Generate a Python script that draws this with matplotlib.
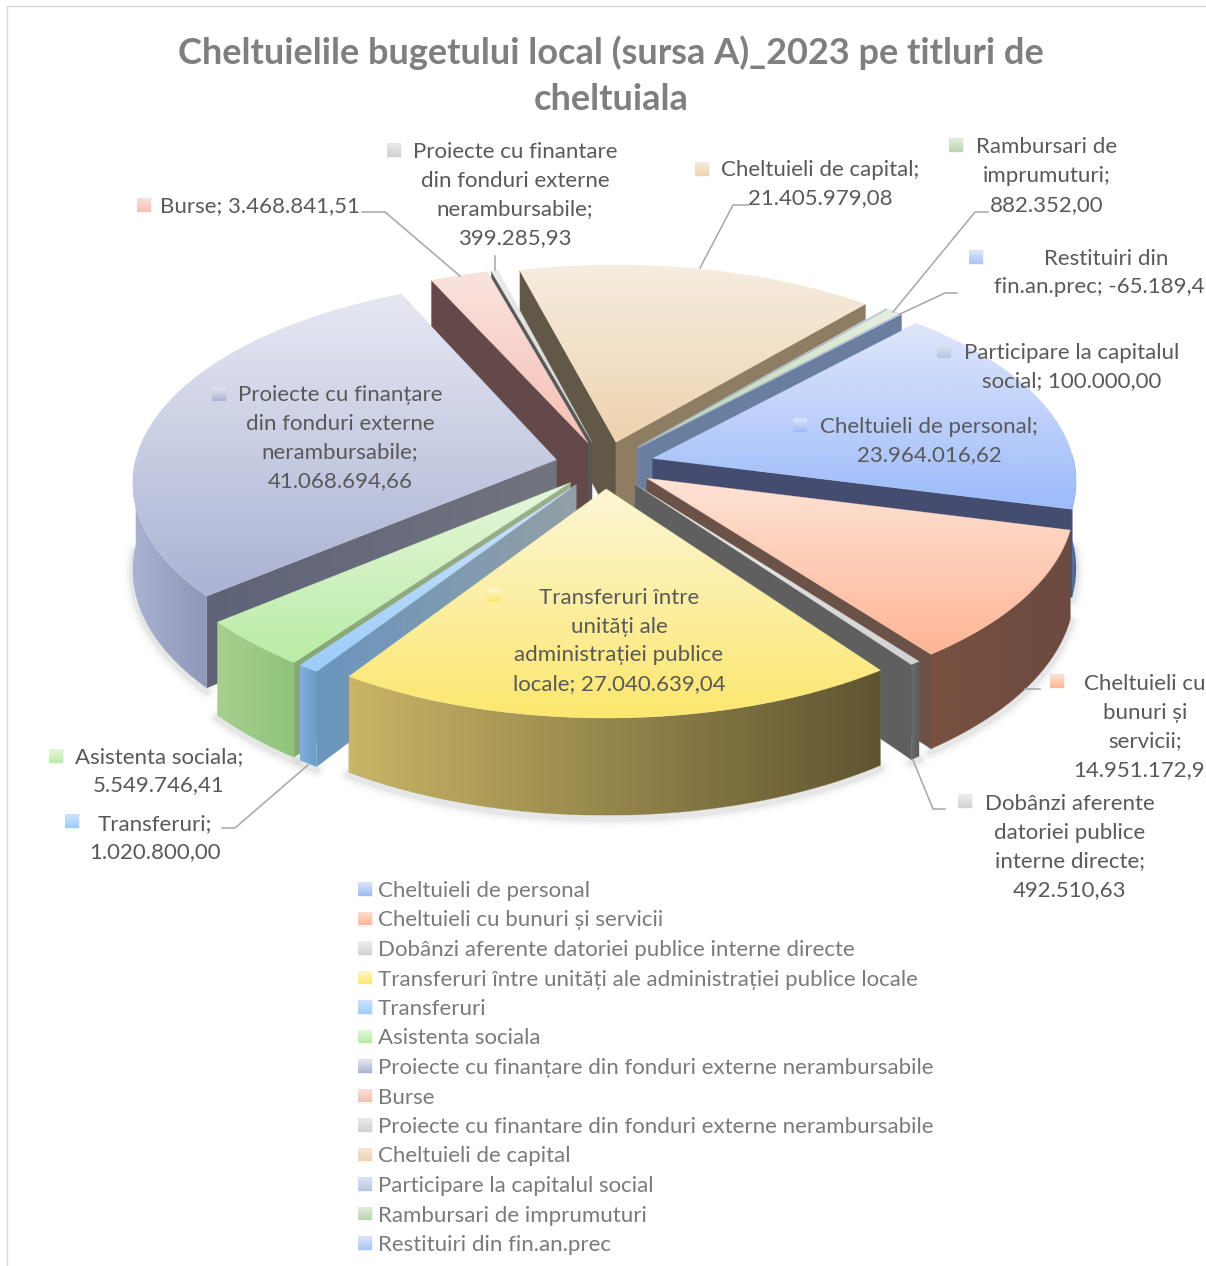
import numpy as np
import matplotlib
matplotlib.use('Agg')
import matplotlib.pyplot as plt
from matplotlib.patches import Polygon

plt.rcParams['font.family'] = ['Lato', 'DejaVu Sans']

names = ['Cheltuieli de personal', 'Cheltuieli cu bunuri și servicii',
         'Dobânzi aferente datoriei publice interne directe',
         'Transferuri între unități ale administrației publice locale',
         'Transferuri', 'Asistenta sociala',
         'Proiecte cu finanțare din fonduri externe nerambursabile', 'Burse',
         'Proiecte cu finantare din fonduri externe nerambursabile',
         'Cheltuieli de capital', 'Participare la capitalul social',
         'Rambursari de imprumuturi', 'Restituiri din fin.an.prec']
values = [23964016.62, 14951172.92, 492510.63, 27040639.04, 1020800.00,
          5549746.41, 41068694.66, 3468841.51, 399285.93, 21405979.08,
          100000.00, 882352.00, -65189.41]
value_text = ['23.964.016,62', '14.951.172,92', '492.510,63', '27.040.639,04',
              '1.020.800,00', '5.549.746,41', '41.068.694,66', '3.468.841,51',
              '399.285,93', '21.405.979,08', '100.000,00', '882.352,00', '-65.189,41']

# label text split in lines, centre of the block, key square
label_text = ['Cheltuieli de personal;\n', 'Cheltuieli cu\nbunuri și\nservicii;\n',
              'Dobânzi aferente\ndatoriei publice\ninterne directe;\n',
              'Transferuri între\nunități ale\nadministrației publice\nlocale; ',
              'Transferuri;\n', 'Asistenta sociala;\n',
              'Proiecte cu finanțare\ndin fonduri externe\nnerambursabile;\n', 'Burse; ',
              'Proiecte cu finantare\ndin fonduri externe\nnerambursabile;\n',
              'Cheltuieli de capital;\n', 'Participare la capitalul\nsocial; ',
              'Rambursari de\nimprumuturi;\n', 'Restituiri din\nfin.an.prec; ']
label_pos = [(929, 440), (1145, 726), (1070, 846), (619, 640), (155, 837), (159, 770),
             (340, 437), (260, 205), (515, 194), (820, 183), (1072, 366), (1047, 175), (1106, 272)]
key_pos = [(800, 425), (1057, 681), (965, 801), (494, 595), (72, 821), (56, 756),
           (219, 394), (144, 205), (394, 150), (702, 169), (944, 351), (956, 145), (976, 257)]

leaders = [[(362, 212), (385, 212), (460, 276)],
           [(495, 256), (495, 270)],
           [(748, 205), (733, 205), (700, 268)],
           [(988, 212), (975, 212), (893, 312)],
           [(957, 293), (945, 293), (900, 314)],
           [(222, 828), (235, 828), (308, 765)],
           [(945, 809), (933, 809), (913, 760)],
           [(1040, 689), (1025, 689)]]

# colours: top light, top strong, wall left, wall right, start face, end face, start face near centre
top_a = ['#e0e6fa', '#fde3d6', '#efefef', '#fcf6d6', '#cfe4fb', '#e6f7dc', '#e6e8f3', '#fae3df',
         '#ebebeb', '#f6ece0', '#dfe6f5', '#e6efe0', '#dfe7fb']
top_b = ['#9cbbfa', '#ffb595', '#d2d2d2', '#fce76e', '#9ccdfb', '#b9eca6', '#abb3d3', '#f5bfb2',
         '#d0d0d0', '#eed3ae', '#b6c6e0', '#bcd4b0', '#a9c3f8']
wall_a = ['#5d6f9c', '#7a5040', '#6c6c6c', '#c9b566', '#7fb0de', '#a9cf90', '#a9b2d0', '#7c5a52',
          '#777777', '#9c8a6e', '#7f8fa8', '#8a9a86', '#7f90b6']
wall_b = ['#4a5a88', '#6b4a40', '#5c5c5c', '#5f5530', '#6a9cc8', '#8fc47a', '#8f96b8', '#6a4a44',
          '#666666', '#857760', '#78879f', '#7f8c90', '#78889e']
face_a = ['#66799f', '#64524c', '#cfcfcf', '#8b8054', '#6a95bf', '#86a874', '#5f6378', '#64494a',
          '#585858', '#625847', '#6a7c9c', '#6f7f95', '#6a7ea0']
face_b = ['#444c70', '#6b5249', '#5f5f5f', '#8a8050', '#8c9da9', '#9cae90', '#6e6f7c', '#66514e',
          '#585858', '#8f7d63', '#6a7c9c', '#7d8aa0', '#6a7ea0']
face_c = ['#66799f', '#64524c', '#cfcfcf', '#8b8054', '#929fa5', '#9eae90', '#72747f', '#64494a',
          '#585858', '#625847', '#6a7c9c', '#6f7f95', '#6a7ea0']
text_color = '#595959'
legend_color = '#7a7a7a'
line_color = '#a6a6a6'

# geometry of the tilted pie, in pixels
cx, cy = 605, 465
rx, ry = 422, 200
persp = 0.104
explode = 0.118
depth = 86
first_angle = 47.0

fig = plt.figure(figsize=(12.06, 12.66), dpi=100)
ax = fig.add_axes([0, 0, 1, 1])
ax.set_axis_off()
z_count = [1]


def next_z():
    z_count[0] += 1
    return z_count[0]


def project(x, y, low=False):
    d = 1 + persp * y
    sy = cy - ry * y / d
    if low:
        sy = sy + depth / d
    return cx + rx * x / d, sy


def fill_gradient(pts, c0, c1, vertical=True):
    pts = np.array(pts)
    x0, x1 = pts[:, 0].min(), pts[:, 0].max()
    y0, y1 = pts[:, 1].min(), pts[:, 1].max()
    a = np.array(matplotlib.colors.to_rgb(c0))
    b = np.array(matplotlib.colors.to_rgb(c1))
    t = np.linspace(0, 1, 128)
    grad = a[None, :] * (1 - t[:, None]) + b[None, :] * t[:, None]
    grad = grad[:, None, :] if vertical else grad[None, :, :]
    z = next_z()
    im = ax.imshow(grad, extent=(x0, x1, y1, y0), aspect='auto', interpolation='bilinear', zorder=z)
    patch = Polygon(pts, closed=True, transform=ax.transData, fc='none', ec='none')
    im.set_clip_path(patch)
    # thin edge hides the jagged clip
    ax.add_patch(Polygon(pts, closed=True, fc='none', ec=(0.5 * (a + b)), lw=0.4, alpha=0.5, zorder=z))


sizes = np.abs(np.array(values))
sweep = sizes / sizes.sum() * 360
ends = first_angle - np.cumsum(sweep)
starts = ends + sweep
mids = (starts + ends) / 2

# soft shadow below the front walls
for i in range(len(values)):
    ang = np.radians(np.linspace(starts[i], ends[i], 80))
    off = (explode * np.cos(np.radians(mids[i])), explode * np.sin(np.radians(mids[i])))
    px, py = project(np.cos(ang) + off[0], np.sin(ang) + off[1], low=True)
    keep = np.sin(ang) < 0
    if keep.sum() > 1:
        for lw, al in [(14, 0.02), (9, 0.04), (5, 0.07)]:
            ax.plot(px[keep], py[keep] + 3, color='#404040', lw=lw, alpha=al, zorder=1, solid_capstyle='round')

order = np.argsort(-np.sin(np.radians(mids)))
for i in order:
    ang = np.radians(np.linspace(starts[i], ends[i], 80))
    ox = explode * np.cos(np.radians(mids[i]))
    oy = explode * np.sin(np.radians(mids[i]))
    top_x, top_y = project(np.cos(ang) + ox, np.sin(ang) + oy)
    low_x, low_y = project(np.cos(ang) + ox, np.sin(ang) + oy, low=True)
    tipx, tipy = project(ox, oy)
    tipx2, tipy2 = project(ox, oy, low=True)

    # radial faces, only the ones turned to the viewer
    if np.cos(ang[0]) < 0:
        pts = [(tipx, tipy), (top_x[0], top_y[0]), (low_x[0], low_y[0]), (tipx2, tipy2)]
        fill_gradient(pts, face_a[i], face_c[i], vertical=False)
    if np.cos(ang[-1]) > 0:
        pts = [(tipx, tipy), (top_x[-1], top_y[-1]), (low_x[-1], low_y[-1]), (tipx2, tipy2)]
        ax.add_patch(Polygon(pts, closed=True, fc=face_b[i], ec=face_b[i], lw=0.3, zorder=next_z()))

    # outer wall, front part only
    front = np.sin(ang) < 0.02
    if front.sum() > 1:
        pts = list(zip(top_x[front], top_y[front])) + list(zip(low_x[front][::-1], low_y[front][::-1]))
        fill_gradient(pts, wall_a[i], wall_b[i], vertical=False)

    # top
    pts = [(tipx, tipy)] + list(zip(top_x, top_y))
    fill_gradient(pts, top_a[i], top_b[i], vertical=True)

top_z = 100000
for line in leaders:
    xs, ys = zip(*line)
    ax.plot(xs, ys, color=line_color, lw=1.1, zorder=top_z)

key = 14


def swatch(x, y, c0, c1):
    pts = [(x, y), (x + key, y), (x + key, y + key), (x, y + key)]
    fill_gradient(pts, c0, c1)


z_count[0] = top_z
for i in range(len(values)):
    tx, ty = label_pos[i]
    ax.text(tx, ty + 1, label_text[i] + value_text[i], ha='center', va='center', ma='center',
            fontsize=16, color=text_color, linespacing=1.54, zorder=top_z + 500)
    kx, ky = key_pos[i]
    swatch(kx - key / 2, ky - key / 2, top_a[i], top_b[i])

# legend
for i, name in enumerate(names):
    ly = 889 + i * 29.5
    swatch(358, ly - key / 2, top_a[i], top_b[i])
    ax.text(378, ly + 2, name, ha='left', va='center', fontsize=16, color=legend_color, zorder=top_z + 500)

ax.text(611, 75.5, 'Cheltuielile bugetului local (sursa A)_2023 pe titluri de\ncheltuiala', ha='center', va='center',
        ma='center', fontsize=26, fontweight='bold', color='#7f7f7f', linespacing=1.48, zorder=top_z + 500)

# frame of the chart, cut by the picture on the right
ax.plot([7, 7, 1206], [1266, 6, 6], color='#d9d9d9', lw=1.0, zorder=top_z)

ax.set_xlim(0, 1206)
ax.set_ylim(1266, 0)
fig.savefig('out.png', dpi=100, facecolor='white')
